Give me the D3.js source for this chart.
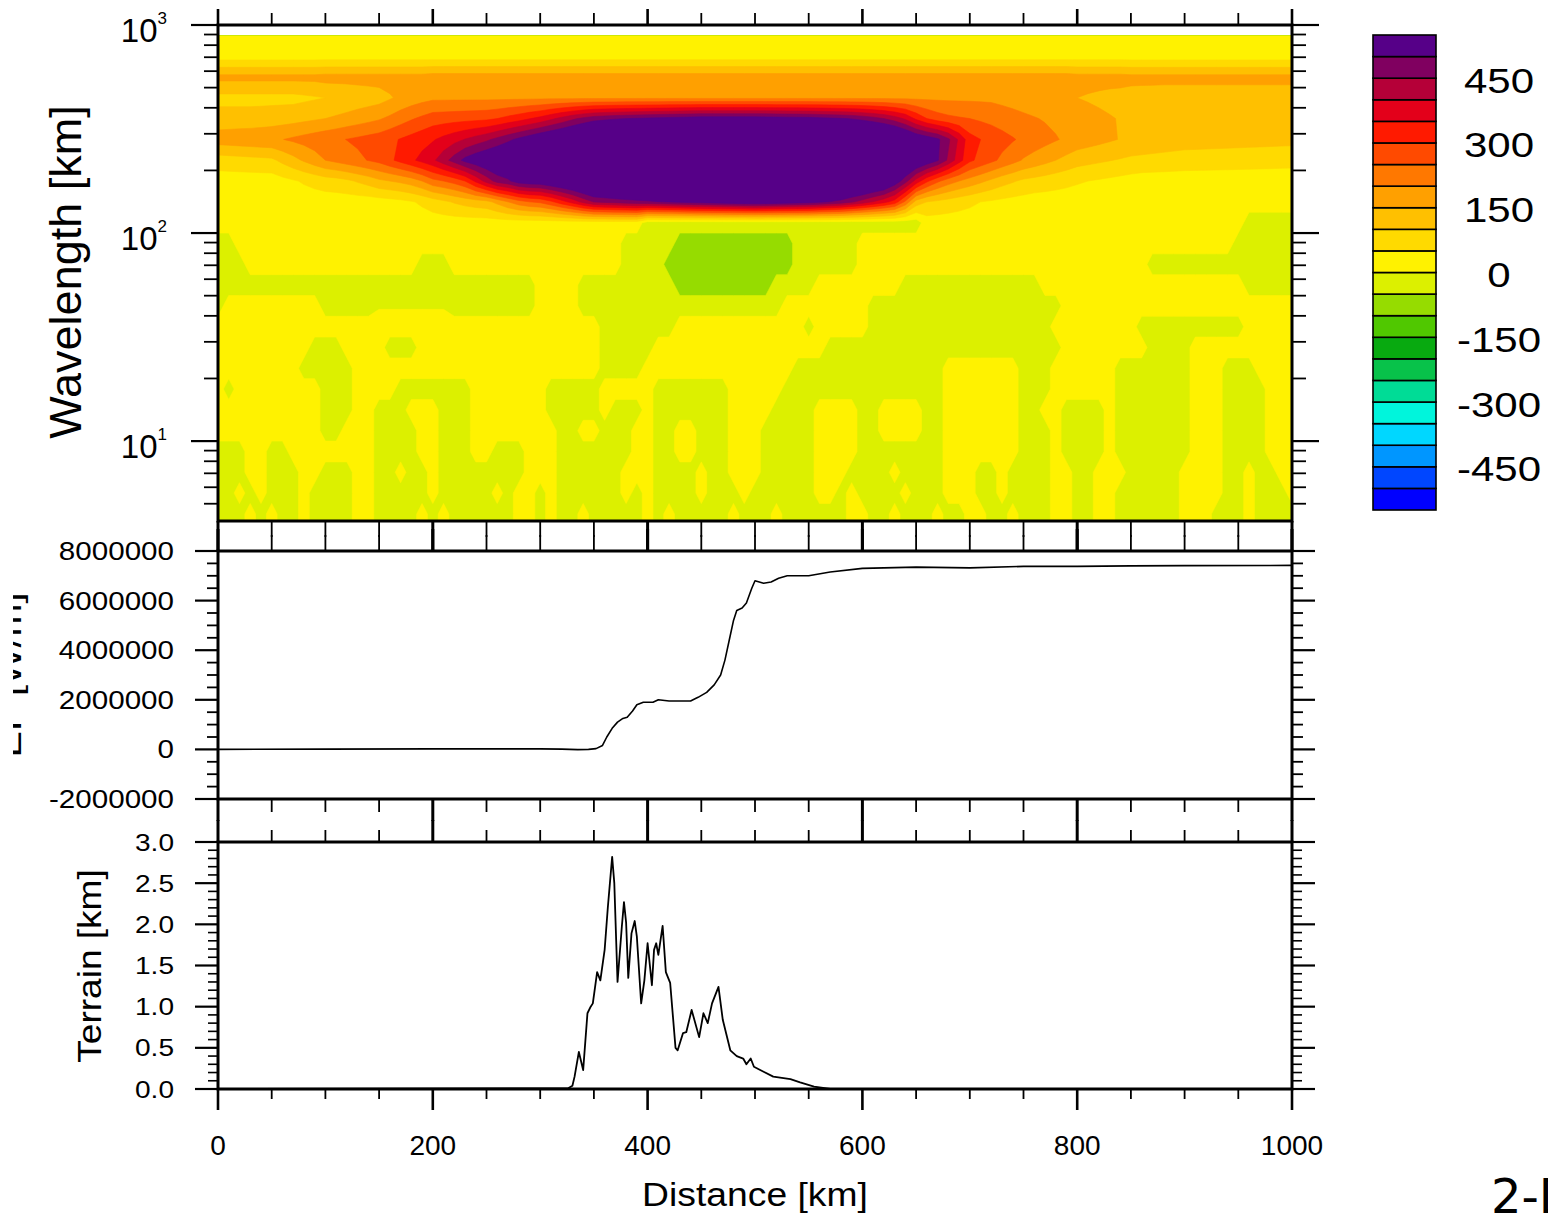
<!DOCTYPE html>
<html>
<head>
<meta charset="utf-8">
<script src="https://cdn.jsdelivr.net/npm/d3@7"></script>
<style>
html,body{margin:0;padding:0;background:#fff;}
svg{display:block;}
text{font-family:"Liberation Sans",Arial,Helvetica,sans-serif;fill:#000;}
</style>
</head>
<body>
<svg id="chart" width="1548" height="1215"></svg>
<script>
// ================= DATA =================
// Field grid: columns (distance, km) and rows (log10 wavelength, km)
const fieldDistanceKm = d3.range(0, 1001, 10);
const fieldLog10Wavelength = [2.95, 2.85, 2.75, 2.65, 2.55, 2.45, 2.35, 2.25, 2.15, 2.05,
  1.95, 1.85, 1.75, 1.65, 1.55, 1.45, 1.35, 1.25, 1.15, 1.05, 0.95, 0.85, 0.75, 0.65, 0.55];
// letter codes used in the lower rows; numbers are values read directly
const fieldLevelValue = {a: -75, g: -25, y: 25, P: 560};
// one run-length encoded row per wavelength ("value*count"), columns left to right
const fieldRows = [
  "y*101",
  "y*101",
  "165*10 170*10 175*60 170*5 165*16",
  "85*8 90 95 100 105 110 118 124 130 145 160 172 182 190*53 185 180 175 170 165 160 155 150 145 140 135 132 130 128 127 125*13",
  "120*4 122 125 128 132 138 144 150 158 167 176 185 195 210 228 245 260 275 278 281 284 287 290 300 315 330 348 365 390 415 440 462 480 488 495 500 505 510 514 518 522 526 530*6 528 526 524 522 520 515 510 504 497 485 470 450 425 392 340 300 275 262 255 250 242 234 226 218 210 203 196 189 182 175 168 161 154 147 140 138 136 134 132 130*11",
  "175 178 181 184 187 190 199 208 217 226 235 243 251 259 267 275 289 303 317 331 345 364 383 402 421 440 464 488 512 536 560 578 596 614 632 650 660 670 680 690 700 704 708 712 716 720*6 716 712 708 704 700 696 692 688 684 680 670 660 640 600 560 535 510 460 390 320 300 285 268 254 240 228 216 204 192 180 172 164 156 148 140 137 134 131 128 125 124 123 122 121 120 119 118 117 116 115",
  "75 78 81 84 87 90 112 134 156 178 200 213 226 239 252 265 290 315 340 365 390 430 472 515 540 560 575 585 592 597 600 610 620 630 640 650 660 670 680 690 700 704 708 712 716 720*6 716 712 708 704 700 696 692 688 684 680 665 650 630 605 580 545 505 440 370 310 285 262 239 217 195 180 165 150 135 120 114 108 102 96 90 87 84 81 78 75 74 73 72 71 70 69 68 67 66 65",
  "25*6 35 45 55 65 75 80 90 105 120 140 150 160 175 200 235 250 270 300 360 420 470 490 528 540 545 565 585 605 628 650 660 670 680 690 700*11 696 692 688 684 680 672 664 656 648 640 620 600 540 470 380 310 260 225 200 180 160 140 120 105 90 83 76 69 62 55 50 45 40 35 30 25*15",
  "25*15 28 32 38 46 58 75 90 105 118 128 135 165 200 230 250 260 290 330 370 415 453 462 470 478 484 490 498 505 512 519 526 532 538 544 550 555 550 544 538 532 526 512 498 484 458 430 398 367 330 240 130 100 90 80 70 60 50 44 38 33 30 25*25",
  "y*40 g*26 y*30 g*5",
  "g*2 y*36 g*5 a*11 g*6 y*35 g*6",
  "g*3 y*16 g*3 y*16 g*4 a*12 g*6 y*27 g*14",
  "g*30 y*4 g*9 a*9 g*4 y*8 g*13 y*19 g*5",
  "g*1 y*9 g*5 -5*7 g*8 y*4 g*19 y*8 g*18 y*22",
  "y*36 g*7 y*12 g*1 y*5 g*17 y*8 g*10 y*5",
  "y*9 g*3 y*4 g*3 y*17 g*5 y*16 g*22 y*8 g*4 y*10",
  "y*8 g*5 y*23 g*4 y*14 g*14 y*7 g*3 y*6 g*7 y*3 g*3 y*4",
  "y*1 g*1 y*8 g*3 y*4 g*7 y*7 g*5 y*5 g*7 y*5 g*15 y*7 g*3 y*6 g*7 y*3 g*4 y*3",
  "y*10 g*3 y*2 g*3 y*3 g*3 y*7 g*5 y*1 g*3 y*1 g*7 y*4 g*4 y*4 g*2 y*4 g*2 y*7 g*2 y*2 g*4 y*1 g*7 y*3 g*4 y*3",
  "y*10 g*2 y*3 g*4 y*2 g*3 y*8 g*2 y*2 g*3 y*2 g*2 y*2 g*3 y*3 g*5 y*4 g*2 y*4 g*2 y*7 g*3 y*1 g*4 y*1 g*7 y*3 g*4 y*3",
  "g*3 y*2 g*2 y*8 g*4 y*2 g*3 y*2 g*3 y*3 g*7 y*2 g*2 y*2 g*3 y*3 g*5 y*4 g*8 y*7 g*3 y*1 g*4 y*1 g*7 y*3 g*4 y*3",
  "g*3 y*2 g*3 y*2 g*3 y*2 g*2 y*1 g*2 y*1 g*8 y*3 g*6 y*3 g*4 y*1 g*2 y*3 g*5 y*3 g*4 y*1 g*4 y*3 g*2 y*1 g*4 y*2 g*2 y*3 g*5 y*4 g*2 y*1 g*2 y*2",
  "g*2 y*1 g*1 y*1 g*3 y*1 g*4 y*2 g*5 y*1 g*5 y*1 g*1 y*2 g*1 y*1 g*6 y*1 g*1 y*1 g*4 y*1 g*3 y*1 g*6 y*2 g*1 y*1 g*4 y*1 g*3 y*3 g*2 y*1 g*4 y*2 g*2 y*2 g*6 y*4 g*2 y*1 g*3 y*1",
  "g*3 y*1 g*1 y*1 g*2 y*1 g*4 y*2 g*4 y*1 g*1 y*1 g*6 y*2 g*1 y*1 g*2 y*1 g*5 y*1 g*1 y*1 g*5 y*1 g*3 y*1 g*6 y*2 g*2 y*1 g*3 y*1 g*2 y*2 g*2 y*1 g*3 y*2 g*2 y*2 g*6 y*3 g*3 y*1 g*4",
  "g*3 y*1 g*1 y*1 g*2 y*1 g*4 y*2 g*4 y*1 g*1 y*1 g*6 y*2 g*1 y*1 g*2 y*1 g*5 y*1 g*1 y*1 g*5 y*1 g*3 y*1 g*6 y*2 g*2 y*1 g*3 y*1 g*2 y*2 g*2 y*1 g*3 y*2 g*2 y*2 g*6 y*3 g*3 y*1 g*4"
];

// contour levels and colours (colour 0 = below lowest level, last = above top level)
const contourLevels = [-500, -450, -400, -350, -300, -250, -200, -150, -100, -50, 0,
  50, 100, 150, 200, 250, 300, 350, 400, 450, 500];
const levelColors = ["#0000ff", "#0046ff", "#0096ff", "#00d7ff", "#00f5dc", "#00dc96",
  "#08c24a", "#08aa10", "#50c800", "#96dc00", "#dcf000", "#fff200", "#ffda00", "#ffc000",
  "#ffa000", "#ff7800", "#ff4a00", "#ff1a00", "#e3001a", "#b50038", "#800060", "#560088"];
const colorbarLabels = [450, 300, 150, 0, -150, -300, -450];

// middle panel curve
const fluxKm = [0, 100, 200, 300, 320, 335, 345, 352, 358, 362, 367, 372, 377, 381, 386, 390, 396,
  405, 410, 420, 430, 440, 447, 455, 462, 468, 472, 476, 480, 483, 488, 492, 497, 500, 504, 508,
  515, 522, 530, 550, 570, 600, 650, 700, 750, 800, 850, 900, 1000];
const fluxValue = [0, 10000, 20000, 20000, 10000, -10000, 0, 30000, 160000, 500000, 850000,
  1100000, 1250000, 1300000, 1550000, 1800000, 1900000, 1900000, 2000000, 1950000, 1950000,
  1950000, 2100000, 2300000, 2600000, 3000000, 3600000, 4400000, 5200000, 5600000, 5700000,
  5900000, 6500000, 6800000, 6750000, 6700000, 6750000, 6900000, 7000000, 7000000, 7150000,
  7300000, 7350000, 7320000, 7380000, 7380000, 7400000, 7410000, 7420000];

// bottom panel terrain
const terrainKm = [0, 326, 330, 332, 336, 340, 344, 347, 349, 353, 356, 360, 363, 367, 369, 372,
  376, 378, 380, 382, 385, 388, 390, 394, 397, 400, 404, 406, 408, 410, 414, 417, 421, 426, 428,
  433, 436, 441, 448, 452, 456, 460, 466, 470, 477, 483, 489, 492, 496, 499, 508, 517, 533, 542,
  555, 570, 1000];
const terrainHeight = [0, 0.01, 0.04, 0.15, 0.45, 0.23, 0.92, 1.0, 1.04, 1.42, 1.32, 1.69, 2.21,
  2.82, 2.5, 1.3, 1.97, 2.27, 2.02, 1.35, 1.89, 2.04, 1.85, 1.04, 1.32, 1.77, 1.26, 1.69, 1.77,
  1.63, 1.98, 1.42, 1.29, 0.5, 0.47, 0.68, 0.69, 0.96, 0.63, 0.92, 0.8, 1.04, 1.24, 0.84, 0.47,
  0.4, 0.37, 0.3, 0.37, 0.27, 0.21, 0.15, 0.12, 0.08, 0.03, 0, 0];

// ticks
const xMajorTicks = [0, 200, 400, 600, 800, 1000];
const xMinorTicks = [50, 100, 150, 250, 300, 350, 450, 500, 550, 650, 700, 750, 850, 900, 950];
const waveMajorTicks = [10, 100, 1000];
const waveTickExponents = ["1", "2", "3"];
const fluxMajorTicks = [-2000000, 0, 2000000, 4000000, 6000000, 8000000];
const terrainMajorTicks = [0, 0.5, 1.0, 1.5, 2.0, 2.5, 3.0];

// ================= DRAWING =================
const svg = d3.select("#chart");

const xScale = d3.scaleLinear().domain([0, 1000]).range([218, 1292]);
const yWave = d3.scaleLog().domain([4.13, 1000]).range([521, 25]);
const yFlux = d3.scaleLinear().domain([-2000000, 8000000]).range([799, 551]);
const yTer = d3.scaleLinear().domain([0, 3]).range([1089, 842]);
const cbScale = d3.scaleLinear().domain([-550, 550]).range([510, 35]);

const X0 = xScale(0), X1 = xScale(1000);

// ----- field -----
const nx = fieldDistanceKm.length, ny = fieldLog10Wavelength.length;
const values = new Array(nx * ny);
fieldRows.forEach((row, j) => {
  const vals = [];
  row.trim().split(/\s+/).forEach(tok => {
    const parts = tok.split("*");
    const c = parts[0], n = parts.length > 1 ? +parts[1] : 1;
    const v = (c in fieldLevelValue) ? fieldLevelValue[c] : +c;
    for (let k = 0; k < n; k++) vals.push(v);
  });
  if (vals.length !== nx) console.warn("row", j, "has", vals.length, "cells");
  while (vals.length < nx) vals.push(vals[vals.length - 1]);
  for (let i = 0; i < nx; i++) values[j * nx + i] = vals[i];
});

const colStep = fieldDistanceKm[1] - fieldDistanceKm[0];
const rowStep = fieldLog10Wavelength[1] - fieldLog10Wavelength[0];
const gx = c => xScale(fieldDistanceKm[0] + (c - 0.5) * colStep);
const gy = c => yWave(Math.pow(10, fieldLog10Wavelength[0] + (c - 0.5) * rowStep));
const proj = d3.geoTransform({ point(x, y) { this.stream.point(gx(x), gy(y)); } });
const gpath = d3.geoPath(proj);

const defs = svg.append("defs");
const fieldTop = yWave(Math.pow(10, fieldLog10Wavelength[0]));
defs.append("clipPath").attr("id", "fieldClip").append("rect")
  .attr("x", X0).attr("y", fieldTop).attr("width", X1 - X0).attr("height", yWave(4.13) - fieldTop);

const contours = d3.contours().size([nx, ny]).thresholds(contourLevels)(values);
svg.append("g").attr("clip-path", "url(#fieldClip)")
  .selectAll("path").data(contours).join("path")
  .attr("d", gpath)
  .attr("fill", (d, i) => levelColors[i + 1])
  .attr("stroke", (d, i) => levelColors[i + 1])
  .attr("stroke-width", 0.6);

// ----- curves -----
const fluxLine = d3.line().x((d, i) => xScale(fluxKm[i])).y(d => yFlux(d));
svg.append("path").attr("d", fluxLine(fluxValue)).attr("fill", "none")
  .attr("stroke", "#000").attr("stroke-width", 1.6).attr("stroke-linejoin", "round");
const terLine = d3.line().x((d, i) => xScale(terrainKm[i])).y(d => yTer(d));
svg.append("path").attr("d", terLine(terrainHeight)).attr("fill", "none")
  .attr("stroke", "#000").attr("stroke-width", 1.8).attr("stroke-linejoin", "round");

// ----- frames -----
const panels = [
  {top: yWave(1000), bottom: yWave(4.13)},
  {top: yFlux(8000000), bottom: yFlux(-2000000)},
  {top: yTer(3), bottom: yTer(0)}
];
panels.forEach(p => {
  svg.append("rect").attr("x", X0).attr("y", p.top).attr("width", X1 - X0)
    .attr("height", p.bottom - p.top).attr("fill", "none").attr("stroke", "#000").attr("stroke-width", 3);
});

// ----- ticks -----
const tickG = svg.append("g").attr("stroke", "#000");
function yTicks(vals, scale, len, w) {
  tickG.append("g").selectAll("line").data(vals).join("line")
    .attr("x1", X0 - len).attr("x2", X0).attr("y1", d => scale(d)).attr("y2", d => scale(d))
    .attr("stroke-width", w);
  tickG.append("g").selectAll("line").data(vals).join("line")
    .attr("x1", X1).attr("x2", X1 + len).attr("y1", d => scale(d)).attr("y2", d => scale(d))
    .attr("stroke-width", w);
}
function xTicks(vals, y, len, w) {
  tickG.append("g").selectAll("line").data(vals).join("line")
    .attr("x1", d => xScale(d)).attr("x2", d => xScale(d)).attr("y1", y).attr("y2", y + len)
    .attr("stroke-width", w);
}
// top panel
yTicks(waveMajorTicks, yWave, 27, 2.2);
yTicks(yWave.ticks().filter(v => !waveMajorTicks.includes(v) && v > 4.13), yWave, 14, 1.8);
xTicks(xMajorTicks, panels[0].top, -16, 2.6);
xTicks(xMinorTicks, panels[0].top, -12, 1.8);
xTicks(xMajorTicks, panels[0].bottom, 30, 3);
xTicks(xMinorTicks, panels[0].bottom, 16, 1.8);
// middle panel
yTicks(fluxMajorTicks, yFlux, 23, 2.2);
yTicks(d3.range(-2000000, 8000001, 500000).filter(v => v % 2000000 !== 0), yFlux, 11, 1.8);
xTicks(xMajorTicks, panels[1].top, -22, 3);
xTicks(xMinorTicks, panels[1].top, -16, 1.8);
xTicks(xMajorTicks, panels[1].bottom, 22, 3);
xTicks(xMinorTicks, panels[1].bottom, 13, 1.8);
// bottom panel
yTicks(terrainMajorTicks, yTer, 23, 2.2);
yTicks(d3.range(1, 30).filter(v => v % 5 !== 0).map(v => v / 10), yTer, 10, 1.6);
xTicks(xMajorTicks, panels[2].top, -22, 3);
xTicks(xMinorTicks, panels[2].top, -12, 1.8);
xTicks(xMajorTicks, panels[2].bottom, 21, 2.6);
xTicks(xMinorTicks, panels[2].bottom, 10, 1.8);

// ----- text helper -----
function label(parent, str, x, y, size, sx, anchor, rot) {
  return parent.append("text")
    .attr("transform", `translate(${x},${y})` + (rot ? ` rotate(${rot})` : "") + ` scale(${sx},1)`)
    .attr("text-anchor", anchor).attr("font-size", size).text(str);
}
const textG = svg.append("g");

// top panel y labels (10^n)
waveMajorTicks.forEach((v, i) => {
  const t = textG.append("text").attr("x", 167).attr("y", yWave(v) + 17)
    .attr("text-anchor", "end").attr("font-size", 33);
  t.append("tspan").text("10");
  t.append("tspan").attr("dy", -18).attr("font-size", 17).text(waveTickExponents[i]);
});
label(textG, "Wavelength [km]", 81, 272, 45, 1, "middle", -90);

// middle panel labels
fluxMajorTicks.forEach(v => label(textG, String(v), 174, yFlux(v) + 9, 25.5, 1.16, "end"));
defs.append("clipPath").attr("id", "fluxLabelClip").append("rect")
  .attr("x", 13).attr("y", 560).attr("width", 30).attr("height", 220);
const clipped = svg.append("g").attr("clip-path", "url(#fluxLabelClip)");
label(clipped, "EF [W/m]", 21, 675, 33, 1.2, "middle", -90);

// bottom panel labels
terrainMajorTicks.forEach(v => label(textG, v.toFixed(1), 174, yTer(v) + 8.5, 24, 1.17, "end"));
label(textG, "Terrain [km]", 101, 966, 34, 1.09, "middle", -90);

// x axis labels
xMajorTicks.forEach(v => label(textG, String(v), xScale(v), 1155, 28, 1.0, "middle"));
label(textG, "Distance [km]", 755, 1206, 33, 1.13, "middle");

// ----- colour bar -----
const cbG = svg.append("g");
const bins = levelColors.map((c, i) => ({
  color: c,
  lo: i === 0 ? -550 : contourLevels[i - 1],
  hi: i === levelColors.length - 1 ? 550 : contourLevels[i]
}));
cbG.selectAll("rect").data(bins).join("rect")
  .attr("x", 1373).attr("width", 63)
  .attr("y", d => cbScale(d.hi)).attr("height", d => cbScale(d.lo) - cbScale(d.hi))
  .attr("fill", d => d.color).attr("stroke", "#000").attr("stroke-width", 1.6);
colorbarLabels.forEach(v => label(cbG, String(v), 1499, cbScale(v) + 14.5, 35, 1.2, "middle"));

// ----- corner text -----
svg.append("text").attr("x", 1491).attr("y", 1213).attr("font-size", 48)
  .style("font-family", "'DejaVu Sans', sans-serif").text("2-D");
</script>
</body>
</html>
